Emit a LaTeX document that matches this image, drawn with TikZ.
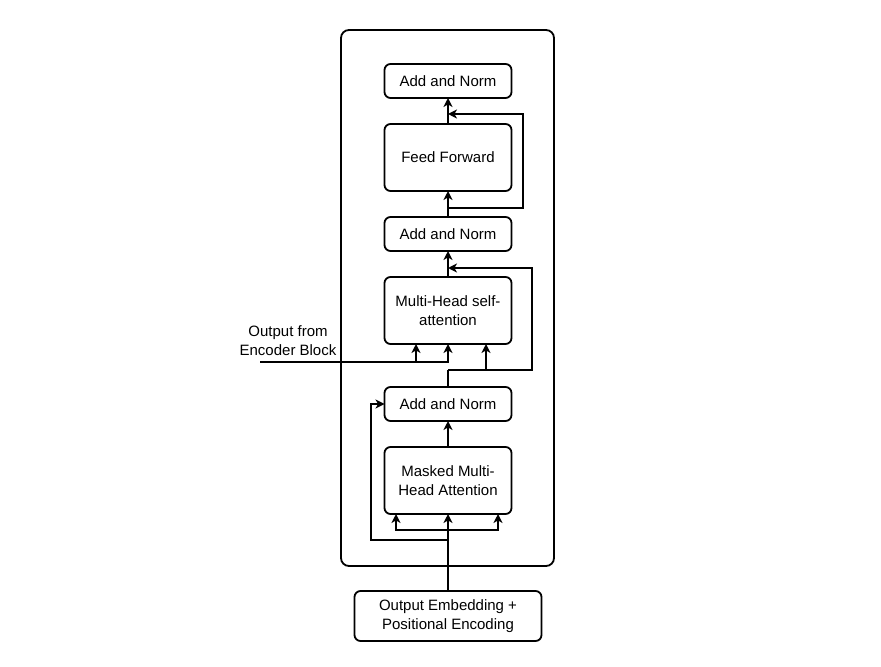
\documentclass[tikz,border=0pt]{standalone}
\usepackage{fontspec}
\setmainfont{Liberation Sans}
\usetikzlibrary{arrows.meta,shapes,positioning}
\tikzstyle{layer} = [draw, rounded corners=3pt, minimum width=63.5pt, minimum height=17pt, inner sep=0pt, outer sep=0pt, align=center, font=\fontsize{7.5}{9.5}\selectfont]
\tikzstyle{biglayer} = [layer, minimum height=33.5pt]

\begin{document}
\begin{tikzpicture}[x=0.5pt, y=-0.5pt, node distance=13pt, >={Stealth[length=4.5pt,width=4.5pt,inset=1.3pt]}, line width=0.9pt]
  \useasboundingbox (0,0) rectangle (881,667);

  % decoder block frame
  \draw [rounded corners=4pt] (341,30) rectangle (554,566);

  % the stack, from the bottom up
    \node [layer, minimum width=93.5pt, minimum height=25pt] (embed) at (448,616) {Output Embedding +\\Positional Encoding};
    \node [biglayer, above=38.5pt of embed] (masked) {Masked Multi-\\Head Attention};
    \node [layer, above=of masked] (norma) {Add and Norm};
    \node [biglayer, above=21.5pt of norma] (selfatt) {Multi-Head self-\\attention};
    \node [layer, above=of selfatt] (normb) {Add and Norm};
    \node [biglayer, above=of normb] (ffwd) {Feed Forward};
    \node [layer, above=of ffwd] (normc) {Add and Norm};
    \node [align=center, font=\fontsize{7.5}{9.5}\selectfont] (enctext) at (288,340.5) {Output from\\Encoder Block};

% masked attention and its skip
    \coordinate (split) at ([yshift=-8pt]masked.south);
    \coordinate (skipa) at ([yshift=-13pt]masked.south);
    \draw [->] (embed) -- (masked);
    \draw [->] (split) -| ([xshift=5.75pt]masked.south west);
    \draw [->] (split) -| ([xshift=-6.75pt]masked.south east);
    \draw [->] (skipa) -| ([xshift=-6.75pt]norma.west) -- (norma.west);
    \draw [->] (masked) -- (norma);

% self-attention, encoder input and skip
    \coordinate (skipb) at ([yshift=-13pt]selfatt.south);
    \coordinate (encin) at (260,362);
    \draw (norma) -- (skipb);
    \draw [->] (skipb) -| ([xshift=-12.75pt]selfatt.south east);
    \draw [->] (skipb) -| ([xshift=10.25pt]selfatt.east) |- ([yshift=-8.5pt]normb.south);
    \draw [->] (encin) -| ([xshift=-16pt]selfatt.south);
    \draw [->] (encin) -| (selfatt.south);
    \draw [->] (selfatt) -- (normb);

% feed forward and its skip
    \coordinate (skipc) at ([yshift=4.5pt]normb.north);
    \draw [->] (normb) -- (ffwd);
    \draw [->] (skipc) -| ([xshift=5.75pt]ffwd.east) |- ([yshift=-8pt]normc.south);
    \draw [->] (ffwd) -- (normc);

\end{tikzpicture}
\end{document}
